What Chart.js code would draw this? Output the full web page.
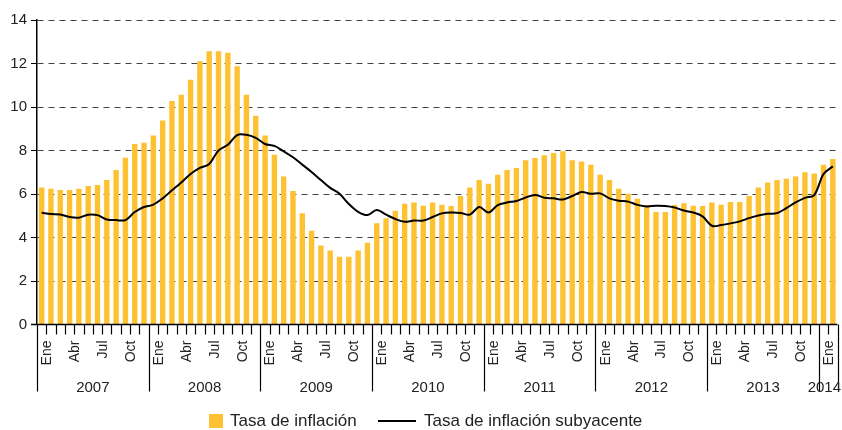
<!DOCTYPE html>
<html><head><meta charset="utf-8">
<script src="https://cdn.jsdelivr.net/npm/chart.js@4.4.1/dist/chart.umd.min.js"></script>
<style>html,body{margin:0;padding:0;background:#fff;}#wrap{width:842px;height:430px;position:relative;}</style>
</head><body><div id="wrap"><canvas id="c" width="842" height="430"></canvas></div>
<script>
const years = ['2007','2008','2009','2010','2011','2012','2013','2014'];
const monthNames = ['Ene','Feb','Mar','Abr','May','Jun','Jul','Ago','Sep','Oct','Nov','Dic'];
const monthTickLabels = ['Ene','Abr','Jul','Oct'];
const monthsPerYear = [12,12,12,12,12,12,12,2];

const inflation2007 = [6.30,6.24,6.18,6.18,6.24,6.37,6.41,6.64,7.10,7.67,8.30,8.36];
const inflation2008 = [8.69,9.38,10.28,10.56,11.25,12.10,12.56,12.56,12.50,11.87,10.56,9.60];
const inflation2009 = [8.69,7.80,6.81,6.14,5.11,4.31,3.63,3.40,3.12,3.12,3.40,3.76];
const inflation2010 = [4.65,4.88,5.23,5.55,5.61,5.46,5.61,5.51,5.45,5.91,6.30,6.64];
const inflation2011 = [6.47,6.88,7.10,7.20,7.55,7.66,7.78,7.89,7.96,7.55,7.49,7.34];
const inflation2012 = [6.88,6.64,6.24,6.01,5.78,5.49,5.17,5.17,5.49,5.57,5.46,5.45];
const inflation2013 = [5.61,5.51,5.63,5.63,5.91,6.30,6.53,6.64,6.70,6.81,7.00,6.94];
const inflation2014 = [7.34,7.61];

const core2007 = [5.14,5.08,5.06,4.94,4.91,5.05,5.03,4.83,4.80,4.80,5.17,5.40];
const core2008 = [5.51,5.80,6.17,6.53,6.92,7.20,7.38,8.00,8.26,8.71,8.72,8.58];
const core2009 = [8.30,8.21,7.96,7.69,7.35,7.01,6.64,6.28,6.01,5.54,5.18,5.03];
const core2010 = [5.26,5.05,4.85,4.72,4.78,4.78,4.94,5.11,5.15,5.13,5.05,5.40];
const core2011 = [5.15,5.49,5.61,5.68,5.84,5.95,5.83,5.80,5.75,5.91,6.09,6.01];
const core2012 = [6.03,5.80,5.69,5.65,5.50,5.43,5.46,5.45,5.38,5.24,5.15,4.97];
const core2013 = [4.54,4.57,4.65,4.74,4.89,5.01,5.09,5.12,5.35,5.61,5.82,5.95];
const core2014 = [6.92,7.27];

const yTicks = [0,2,4,6,8,10,12,14];

const inflation = [].concat(inflation2007,inflation2008,inflation2009,inflation2010,inflation2011,inflation2012,inflation2013,inflation2014);
const core = [].concat(core2007,core2008,core2009,core2010,core2011,core2012,core2013,core2014);
const labels = [];
years.forEach((yr, yi) => { for (let m = 0; m < monthsPerYear[yi]; m++) labels.push(monthNames[m] + ' ' + yr); });

const BAR = 'rgb(253,193,50)';
const FONT = '"Liberation Sans", Arial, sans-serif';

const axisPlugin = {
  id: 'customAxis',
  afterDraw(chart) {
    const ctx = chart.ctx, x = chart.scales.x, y = chart.scales.y;
    const y0 = y.getPixelForValue(0);
    const n = labels.length;
    const w = x.getPixelForValue(1) - x.getPixelForValue(0);
    const edge = i => (i < n ? x.getPixelForValue(i) - w / 2 : x.getPixelForValue(n - 1) + w / 2);
    ctx.save();
    ctx.strokeStyle = '#000';
    ctx.lineWidth = 1.5;
    ctx.beginPath(); ctx.moveTo(x.left - 6, y0); ctx.lineTo(edge(n), y0); ctx.stroke();
    ctx.lineWidth = 1.2;
    const yearStarts = [];
    let acc = 0;
    monthsPerYear.forEach(c => { yearStarts.push(acc); acc += c; });
    for (let i = 0; i <= n; i++) {
      const bx = Math.round(edge(i)) + 0.5;
      const isYear = yearStarts.includes(i) || i === n;
      ctx.beginPath(); ctx.moveTo(bx, y0); ctx.lineTo(bx, y0 + (isYear ? 67 : 10)); ctx.stroke();
    }
    ctx.fillStyle = '#222';
    ctx.font = '14px ' + FONT;
    for (let i = 0; i < n; i++) {
      const mn = monthNames[i % 12];
      if (!monthTickLabels.includes(mn)) continue;
      const cx = x.getPixelForValue(i) + 0.6 * w;
      ctx.save();
      ctx.translate(cx, y0 + 16);
      ctx.rotate(-Math.PI / 2);
      ctx.textAlign = 'right';
      ctx.textBaseline = 'middle';
      ctx.fillText(mn, 0, 0);
      ctx.restore();
    }
    ctx.font = '15px ' + FONT;
    ctx.textAlign = 'center';
    ctx.textBaseline = 'middle';
    years.forEach((yr, yi) => {
      const s = edge(yearStarts[yi]), e = edge(yearStarts[yi] + monthsPerYear[yi]);
      let cx = (s + e) / 2;
      const tw = ctx.measureText(yr).width;
      if (cx + tw / 2 > chart.width - 1) cx = chart.width - 1 - tw / 2;
      ctx.fillText(yr, cx, y0 + 63);
    });
    // legend
    ctx.font = '17px ' + FONT;
    ctx.textAlign = 'left';
    ctx.fillStyle = BAR;
    ctx.fillRect(209, 414, 14, 14);
    ctx.fillStyle = '#222';
    ctx.fillText(chart.data.datasets[1].label, 230, 421);
    ctx.strokeStyle = '#000';
    ctx.lineWidth = 2;
    ctx.beginPath(); ctx.moveTo(378, 421); ctx.lineTo(416, 421); ctx.stroke();
    ctx.fillText(chart.data.datasets[0].label, 424, 421);
    ctx.restore();
  }
};

new Chart(document.getElementById('c'), {
  data: {
    labels: labels,
    datasets: [
      { type: 'line', label: 'Tasa de inflación subyacente', data: core, borderColor: '#000', borderWidth: 2,
        pointRadius: 0, tension: 0.35, order: 0, fill: false },
      { type: 'bar', label: 'Tasa de inflación', data: inflation, backgroundColor: BAR,
        barPercentage: 0.58, categoryPercentage: 1.0, order: 1 }
    ]
  },
  options: {
    responsive: false,
    animation: false,
    devicePixelRatio: 1,
    layout: { padding: { left: 0, right: 4.5, top: 20, bottom: 105.5 } },
    plugins: { legend: { display: false }, tooltip: { enabled: false } },
    scales: {
      x: { type: 'category', display: false, offset: true },
      y: {
        min: 0, max: 14,
        afterBuildTicks(scale) { scale.ticks = yTicks.map(v => ({ value: v })); },
        afterFit(scale) { scale.width = 37; },
        ticks: { stepSize: 2, color: '#222', font: { family: FONT, size: 15 }, padding: 4 },
        grid: { color: '#444', lineWidth: 1, drawTicks: true, tickLength: 6, tickColor: '#000', tickBorderDash: [], tickWidth: 1 },
        border: { display: true, color: '#000', width: 1.5, dash: [6, 5] }
      }
    }
  },
  plugins: [axisPlugin]
});
</script>
</body></html>
